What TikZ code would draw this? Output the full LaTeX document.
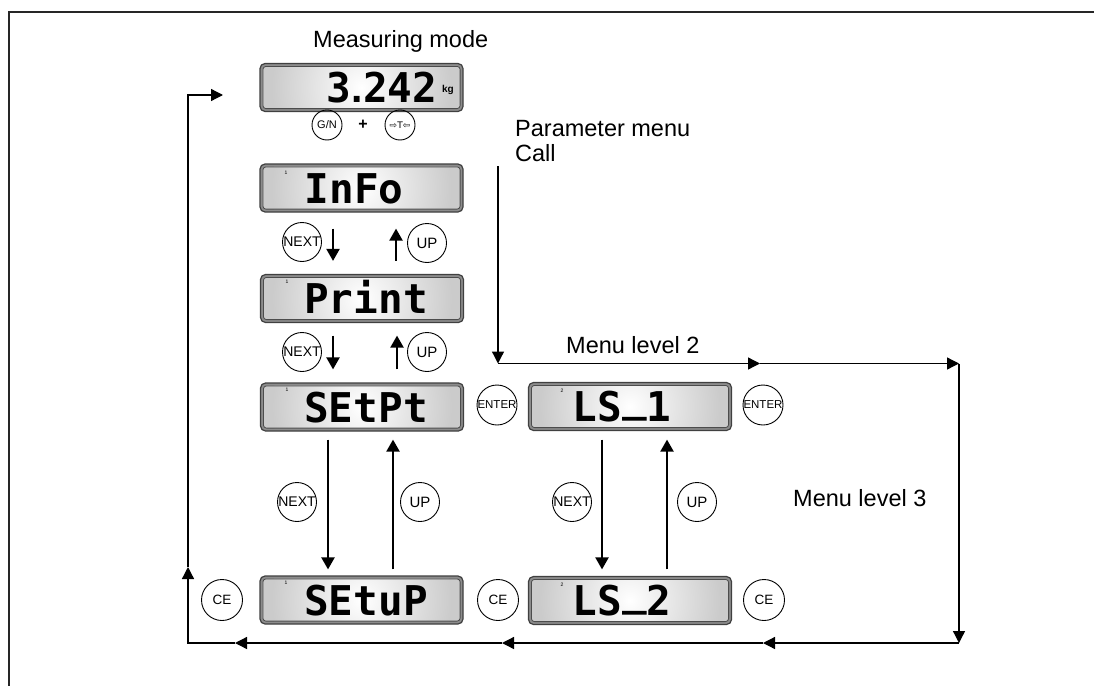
\documentclass[tikz,border=0pt]{standalone}
\usepackage{fontspec}
\setmainfont{Liberation Sans}
\newfontfamily\segfont{DejaVu Sans Mono}
\newfontfamily\symfont{DejaVu Sans}
\newfontfamily\dotfont{Liberation Sans}
\usetikzlibrary{arrows.meta,calc}
\definecolor{lcdgray}{HTML}{CBCBCB}
\tikzset{
  flow/.style={line width=1.3pt, -{Triangle[length=12pt,width=12pt]}},
  nav/.style={line width=2.2pt, -{Triangle[length=12pt,width=13pt]}},
  key/.style={circle, draw, line width=0.9pt, minimum size=39pt, inner sep=0pt, font=\fontsize{14}{14}\selectfont},
  smallkey/.style={circle, draw, line width=0.9pt, minimum size=30pt, inner sep=0pt, font=\fontsize{11}{11}\selectfont},
  lcdout/.style={draw=black!75, line width=1.2pt, fill=black!45, rounded corners=5pt, minimum width=203pt, minimum height=48pt, inner sep=0pt},
  lbl/.style={font=\fontsize{23.5}{25}\selectfont, inner sep=0pt},
  seg/.style={font=\segfont\bfseries\fontsize{41}{41}\selectfont, inner sep=0pt, anchor=base},
  tinydigit/.style={font=\fontsize{5}{5}\selectfont, inner sep=0pt},
}
\newcommand\lcdpanel[2]{%
  \node[lcdout] (#1) at #2 {};
  \begin{scope}
    \clip[rounded corners=3pt] ([shift={(3.5pt,-3.5pt)}]#1.north west) rectangle ([shift={(-3.5pt,3.5pt)}]#1.south east);
    \fill[lcdgray] (#1.north west) rectangle (#1.south east);
    \shade[inner color=white, outer color=lcdgray] (#1.center) circle (90pt);
  \end{scope}
  \draw[black!70, line width=0.8pt, rounded corners=3pt] ([shift={(3.5pt,-3.5pt)}]#1.north west) rectangle ([shift={(-3.5pt,3.5pt)}]#1.south east);
}
\begin{document}
\begin{tikzpicture}[x=1pt,y=-1pt]
\useasboundingbox (0,0) rectangle (1094,685);
\clip (0,0) rectangle (1094,685);
\fill[white] (0,0) rectangle (1094,685);
% frame
\draw[line width=2.2pt, black!85] (9,700) -- (9,12) -- (1110,12);

% titles
\node[lbl, anchor=base west] (tmeas) at (313,48) {Measuring mode};
\node[lbl, anchor=north west, align=left] (tcall) at (515,120) {Parameter menu\\Call};
\node[lbl, anchor=base west] (tml2) at (566,353) {Menu level 2};
\node[lbl, anchor=base west] (tml3) at (793,506) {Menu level 3};

% displays
\lcdpanel{meas}{(361.5,87.5)}
\lcdpanel{info}{(361.5,188)}
\lcdpanel{print}{(362,298.5)}
\lcdpanel{setpt}{(362,407)}
\lcdpanel{setup}{(361.5,600)}
\lcdpanel{lsa}{(630,406.5)}
\lcdpanel{lsb}{(630,600.5)}

% display texts
\node[seg] (t0) at (382,102.5) {3{\dotfont\bfseries .}242};
\node[font=\bfseries\fontsize{10}{10}\selectfont, inner sep=0pt] (kg) at (448,90) {kg};
\node[seg] (t1) at (354,203) {InFo};
\node[seg] (t2) at (366,313.5) {Print};
\node[seg] (t3) at (366,422) {SEtPt};
\node[seg] (t4) at (366,615) {SEtuP};
\node[seg] (t5) at (622,421.5) {LS\raisebox{10pt}{\_}1};
\node[seg] (t6) at (622,615.5) {LS\raisebox{10pt}{\_}2};
\node[tinydigit] (d1) at (286,173) {1};
\node[tinydigit] (d2) at (287,282) {1};
\node[tinydigit] (d3) at (287,390) {1};
\node[tinydigit] (d4) at (286,583) {1};
\node[tinydigit] (d5) at (562,391) {2};
\node[tinydigit] (d6) at (562,585) {2};

% keys
\node[smallkey] (gn) at (327,125) {G/N};
\node[font=\bfseries\fontsize{16}{16}\selectfont, inner sep=0pt] (plus) at (363,125) {+};
\node[smallkey, font=\symfont\fontsize{9}{9}\selectfont] (tare) at (400,125) {⇨T⇦};
\node[key] (next1) at (302,242) {NEXT};
\node[key, font=\fontsize{15}{15}\selectfont] (up1) at (427,243) {UP};
\node[key] (next2) at (302,352) {NEXT};
\node[key, font=\fontsize{15}{15}\selectfont] (up2) at (427,352) {UP};
\node[key, minimum size=40pt, font=\fontsize{11.5}{11.5}\selectfont] (enter1) at (497,405) {ENTER};
\node[key, minimum size=40pt, font=\fontsize{11.5}{11.5}\selectfont] (enter2) at (763,405) {ENTER};
\node[key] (next3) at (297,502) {NEXT};
\node[key, font=\fontsize{15}{15}\selectfont] (up3) at (420,502) {UP};
\node[key] (next4) at (572,502) {NEXT};
\node[key, font=\fontsize{15}{15}\selectfont] (up4) at (697,502) {UP};
\node[key, minimum size=41pt, font=\fontsize{13.5}{13.5}\selectfont] (ce1) at (222,600) {CE};
\node[key, minimum size=41pt, font=\fontsize{13.5}{13.5}\selectfont] (ce2) at (498,600) {CE};
\node[key, minimum size=41pt, font=\fontsize{13.5}{13.5}\selectfont] (ce3) at (764,600) {CE};

% navigation arrows
\draw[nav] ([xshift=-28.5pt,yshift=-16pt]info.south) -- ([xshift=-29pt,yshift=13pt]print.north);
\draw[nav] ([xshift=34pt,yshift=13pt]print.north) -- ([xshift=34.5pt,yshift=-16pt]info.south);
\draw[nav] ([xshift=-29pt,yshift=-12.5pt]print.south) -- ([xshift=-29pt,yshift=13pt]setpt.north);
\draw[nav] ([xshift=35pt,yshift=13pt]setpt.north) -- ([xshift=35pt,yshift=-12.5pt]print.south);
\draw[nav] ([xshift=-34pt,yshift=-8pt]setpt.south) -- ([xshift=-33.5pt,yshift=6pt]setup.north);
\draw[nav] ([xshift=31.5pt,yshift=6pt]setup.north) -- ([xshift=31pt,yshift=-8pt]setpt.south);
\draw[nav] ([xshift=-28pt,yshift=-8.5pt]lsa.south) -- ([xshift=-28pt,yshift=6.5pt]lsb.north);
\draw[nav] ([xshift=37pt,yshift=6.5pt]lsb.north) -- ([xshift=37pt,yshift=-8.5pt]lsa.south);

% flow loop
\coordinate (call) at (498,166);
\coordinate (c1) at (498,363.5);
\coordinate (m1) at (760,363.5);
\coordinate (c2) at (959,363.5);
\coordinate (c3) at (959,643);
\coordinate (m2) at (763,643);
\coordinate (m3) at (502,643);
\coordinate (m4) at (235,643);
\coordinate (c4) at (188,643);
\coordinate (m5) at (188,567);
\coordinate (c5) at (188,95);
\coordinate (e1) at (223,95);
\draw[flow] (call) -- (c1);
\draw[flow] (c1) -- (m1);
\draw[flow] (m1) -- (c2);
\draw[flow] (c2) -- (c3);
\draw[flow] (c3) -- (m2);
\draw[flow] (m2) -- (m3);
\draw[flow] (m3) -- (m4);
\draw[flow] (m4) -- (c4) -- (m5);
\draw[flow] (m5) -- (c5) -- (e1);
\end{tikzpicture}
\end{document}
